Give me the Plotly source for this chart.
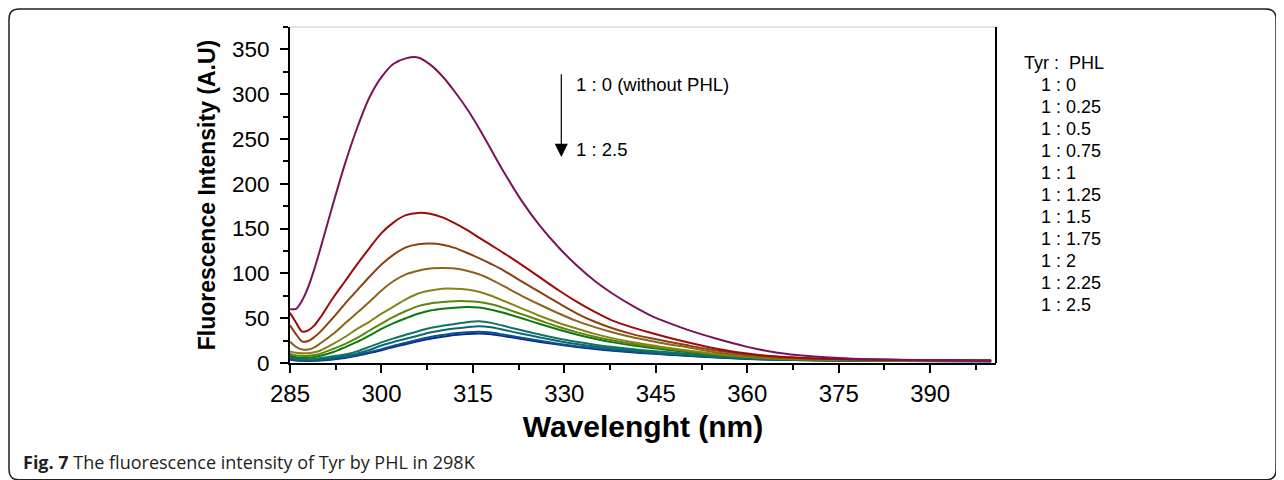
import plotly.graph_objects as go

wavelength = [285, 286, 287, 288, 289, 290, 292, 294, 296, 298, 300, 302, 304, 306, 308,
              310, 312, 314, 316, 318, 320, 323, 326, 329, 332, 335, 338, 341, 344, 347,
              350, 355, 360, 365, 370, 375, 380, 390, 400]

ratios = ["1 : 0", "1 : 0.25", "1 : 0.5", "1 : 0.75", "1 : 1", "1 : 1.25",
          "1 : 1.5", "1 : 1.75", "1 : 2", "1 : 2.25", "1 : 2.5"]

colors = ["#7a1458", "#9c0a0a", "#8c4010", "#8a6418", "#848418", "#5e8410",
          "#0c7a10", "#0e7660", "#0e6676", "#0c5288", "#0c2898"]

r_0 = [60, 60.5, 70, 85, 105, 128, 176, 222, 262, 296, 319, 334, 340, 341, 333,
       320, 303, 284, 262, 238, 214, 181, 153, 129.5, 109, 91.5, 77, 64.5, 53.5, 45,
       37.5, 27, 18, 11.5, 7.8, 5.6, 4.3, 3.1, 2.6]
r_025 = [56, 45, 35, 36.5, 42, 51, 72, 91, 110, 128, 145, 157, 165, 167.5, 166.5,
         162.5, 156, 148.5, 140, 131.5, 123, 109.5, 95.5, 81.5, 68.5, 57, 47, 40, 34, 28.5,
         23.5, 16, 10.5, 7.2, 5.4, 4.4, 3.8, 3.1, 2.8]
r_05 = [42, 32, 24, 24.5, 29, 35, 50, 66, 81, 96, 110, 121, 129, 132.5, 133.3,
        132, 128.5, 123, 117, 110.5, 103.5, 91, 79, 67, 55.5, 46, 38.5, 32.5, 27.8, 23.8,
        20, 14, 9.6, 6.8, 5.2, 4.2, 3.6, 3.0, 2.7]
r_075 = [24, 18, 15, 15, 17.5, 22, 32, 44, 56, 68, 81, 91.5, 99, 103, 105.5,
         106, 105.5, 103, 99, 93, 86, 75, 65, 55.5, 47, 40, 34, 29, 24.8, 21,
         17.8, 11.8, 8, 5.7, 4.5, 3.8, 3.4, 2.9, 2.6]
r_1 = [13, 11.5, 11, 11, 12, 14, 21, 29, 38, 46, 55, 63, 71, 77.5, 81,
       83, 83, 82, 79.5, 75, 69.5, 61, 52.5, 45, 38.5, 32.5, 27.5, 23.5, 20, 17,
       14.3, 10, 7, 5.1, 4.1, 3.5, 3.2, 2.7, 2.5]
r_125 = [10, 8.5, 8, 8, 9, 10.5, 15.5, 21, 28, 36, 44, 51.5, 58, 63.5, 66.5,
         68, 69, 69, 68, 65.5, 61.5, 54.5, 47.5, 40.5, 34.5, 29.3, 25, 21.5, 18.5, 15.8,
         13.4, 9.4, 6.6, 4.9, 3.9, 3.3, 3, 2.6, 2.4]
r_15 = [8, 6.5, 6, 6, 6.8, 8, 12, 17.5, 23.5, 30.5, 38, 44.5, 50, 55, 58.5,
        60.5, 61.8, 62.5, 62, 59.5, 56, 50, 43.5, 37.3, 31.8, 27, 23, 19.8, 17, 14.6,
        12.4, 8.8, 6.2, 4.6, 3.7, 3.2, 2.9, 2.5, 2.3]
r_175 = [7, 5, 4.5, 4.3, 4.6, 5.5, 7.5, 9.5, 13, 18, 23, 27.5, 31.5, 35.5, 39,
         41.5, 43.5, 45.5, 46.5, 44.8, 41.5, 36.5, 31.8, 27.3, 23.6, 20.4, 17.8, 15.6, 13.6, 11.9,
         10.4, 7.6, 5.5, 4.2, 3.4, 3, 2.7, 2.4, 2.2]
r_2 = [6, 4.2, 3.8, 3.7, 4, 4.6, 6, 8, 10.5, 14.5, 19.5, 23.5, 27, 30.5, 34,
       36.5, 38.5, 40, 41, 39.8, 37, 32.7, 28.5, 24.6, 21.2, 18.4, 16.1, 14.1, 12.3, 10.7,
       9.3, 7, 5.1, 4, 3.3, 2.9, 2.6, 2.3, 2.1]
r_225 = [4.5, 3.2, 2.8, 2.7, 2.9, 3.3, 4.5, 6.3, 8.7, 12, 15.5, 19.3, 22.7, 26, 29,
         31.3, 33.2, 34.4, 35, 34, 31.7, 28.3, 24.8, 21.6, 18.8, 16.4, 14.3, 12.6, 11.1, 9.7,
         8.4, 6.4, 4.7, 3.7, 3.1, 2.7, 2.4, 2.1, 1.9]
r_25 = [4, 2.8, 2.4, 2.3, 2.5, 2.9, 4, 5.7, 8, 11, 14.3, 17.8, 21, 24.2, 27,
        29.3, 31.2, 32.4, 33, 32.1, 30, 26.8, 23.5, 20.5, 17.9, 15.6, 13.6, 12, 10.6, 9.3,
        8, 6.1, 4.5, 3.6, 3, 2.6, 2.3, 2, 1.8]

series = [r_0, r_025, r_05, r_075, r_1, r_125, r_15, r_175, r_2, r_225, r_25]

FONT = "Arial, Liberation Sans, sans-serif"

OFF = 8  # page body margin
W, H = 1276, 472
L, T = 290 - OFF, 27 - OFF
R = W - (996 - OFF)
B = H - (363.5 - OFF)
pw, ph = W - L - R, H - T - B

def px_x(p):
    return (p - OFF - L) / pw

def px_y(p):
    return (H - B - (p - OFF)) / ph

fig = go.Figure()
for name, ys, col in reversed(list(zip(ratios, series, colors))):
    fig.add_trace(go.Scatter(x=wavelength, y=ys, mode="lines", name=name,
                             line=dict(color=col, width=2, shape="spline", smoothing=0.8),
                             showlegend=False))

annotations = []
annotations.append(dict(text="Tyr :  PHL", xref="paper", yref="paper",
                        x=px_x(1022), y=px_y(63), xanchor="left", yanchor="middle",
                        showarrow=False, font=dict(family=FONT, size=18, color="black")))
for i, r in enumerate(ratios):
    annotations.append(dict(text=r, xref="paper", yref="paper",
                            x=px_x(1039), y=px_y(85 + 22 * i), xanchor="left", yanchor="middle",
                            showarrow=False, font=dict(family=FONT, size=18, color="black")))

annotations.append(dict(x=329.5, y=230, ax=329.5, ay=324, xref="x", yref="y",
                        axref="x", ayref="y", text="", showarrow=True,
                        arrowhead=2, arrowsize=2.2, arrowwidth=1.2, arrowcolor="black"))
annotations.append(dict(text="1 : 0 (without PHL)", x=331.6, y=311, xref="x", yref="y",
                        xanchor="left", yanchor="middle", showarrow=False,
                        font=dict(family=FONT, size=18.5, color="black")))
annotations.append(dict(text="1 : 2.5", x=331.6, y=238, xref="x", yref="y",
                        xanchor="left", yanchor="middle", showarrow=False,
                        font=dict(family=FONT, size=18.5, color="black")))
annotations.append(dict(text="<b>Fig. 7</b> The fluorescence intensity of Tyr by PHL in 298K",
                        xref="paper", yref="paper", x=px_x(21), y=px_y(463),
                        xanchor="left", yanchor="middle", showarrow=False,
                        font=dict(family="Open Sans, Noto Sans, sans-serif", size=18, color="#231f20")))

x0, x1 = px_x(9), px_x(1276)
y0, y1 = px_y(480.5), px_y(9)
rx, ry = 10 / pw, 10 / ph
path = (f"M {x0+rx},{y1} L {x1-rx},{y1} Q {x1},{y1} {x1},{y1-ry} "
        f"L {x1},{y0+ry} Q {x1},{y0} {x1-rx},{y0} L {x0+rx},{y0} "
        f"Q {x0},{y0} {x0},{y0+ry} L {x0},{y1-ry} Q {x0},{y1} {x0+rx},{y1} Z")
shapes = [
    dict(type="path", path=path, xref="paper", yref="paper",
         line=dict(color="#231f20", width=1.5)),
    dict(type="line", xref="paper", yref="paper", x0=0, x1=1, y0=1, y1=1,
         line=dict(color="#c8c8c8", width=1)),
    dict(type="line", xref="paper", yref="paper", x0=1, x1=1, y0=0, y1=1,
         line=dict(color="black", width=2)),
]

fig.update_layout(
    width=W, height=H,
    margin=dict(l=L, r=R, t=T, b=B),
    paper_bgcolor="white", plot_bgcolor="white",
    annotations=annotations, shapes=shapes,
    font=dict(family=FONT, color="black"),
    xaxis=dict(range=[285, 400.8], tickmode="linear", tick0=285, dtick=15,
               ticks="outside", ticklen=8, tickwidth=2, tickcolor="black",
               minor=dict(ticks="outside", ticklen=5, tickwidth=2, tickcolor="black", dtick=7.5),
               showline=True, linewidth=2, linecolor="black", showgrid=False, zeroline=False,
               tickfont=dict(family=FONT, size=24, color="black"),
               title=dict(text="<b>Wavelenght (nm)</b>", font=dict(family=FONT, size=30, color="black"),
                          standoff=10)),
    yaxis=dict(range=[0, 375], tickmode="linear", tick0=0, dtick=50,
               ticks="outside", ticklen=8, tickwidth=2, tickcolor="black",
               minor=dict(ticks="outside", ticklen=5, tickwidth=2, tickcolor="black", dtick=25),
               showline=True, linewidth=2, linecolor="black", showgrid=False, zeroline=False,
               ticklabelstandoff=6,
               tickfont=dict(family=FONT, size=22.5, color="black"),
               title=dict(text="<b>Fluorescence Intensity (A.U)</b>",
                          font=dict(family=FONT, size=23, color="black"), standoff=10)),
)

fig.write_html("out.html")
